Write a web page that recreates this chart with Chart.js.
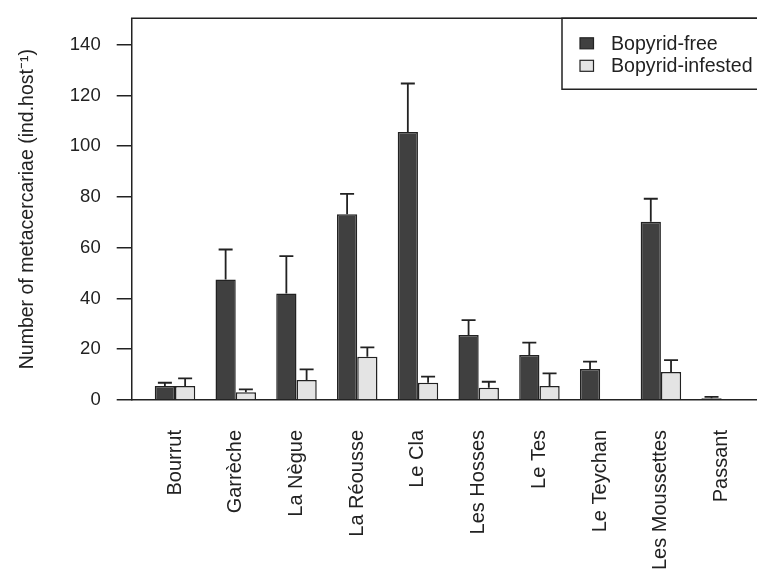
<!DOCTYPE html>
<html><head><meta charset="utf-8">
<script src="https://cdn.jsdelivr.net/npm/chart.js@4.4.1/dist/chart.umd.min.js"></script>
<style>html,body{margin:0;padding:0;background:#fff;overflow:hidden}#wrap{width:757px;height:570px;position:relative}</style>
</head><body><div id="wrap"><canvas id="c" width="757" height="570"></canvas></div>
<script>
const categories = ['Bourrut','Garrèche','La Nègue','La Réousse','Le Cla','Les Hosses','Le Tes','Le Teychan','Les Moussettes','Passant'];
const freeMeans = [5.5, 47.5, 42.0, 73.2, 105.6, 25.6, 17.7, 12.2, 70.2, 0.7];
const freeErrors = [1.3, 11.8, 14.7, 8.0, 19.1, 5.9, 4.9, 2.9, 9.1, 0.5];
const infestedMeans = [5.5, 3.1, 7.9, 17.0, 6.8, 4.8, 5.5, null, 11.0, null];
const infestedErrors = [3.0, 1.1, 4.2, 3.7, 2.4, 2.4, 5.0, null, 4.7, null];
const seriesNames = ['Bopyrid-free', 'Bopyrid-infested'];
const yTickStep = 20;
const yMax = 150.4;
const yTitle = 'Number of metacercariae (ind.host\u207B\u00B9)';

const INK = '#222';
const FONT = 'Arial, "Liberation Sans", sans-serif';

const toPoints = arr => arr.map((v, i) => ({x: i, y: v}));

const errorBars = {
  id: 'errorBars',
  afterDatasetsDraw(chart) {
    const ctx = chart.ctx;
    const ys = chart.scales.y;
    const errs = [freeErrors, infestedErrors];
    chart.data.datasets.forEach((ds, di) => {
      const meta = chart.getDatasetMeta(di);
      meta.data.forEach((el, i) => {
        const v = ds.data[i].y, e = errs[di][i];
        if (v == null || e == null) return;
        const yTop = ys.getPixelForValue(v + e);
        const yBar = ys.getPixelForValue(v);
        ctx.save();
        ctx.strokeStyle = INK;
        ctx.lineWidth = 1.8;
        ctx.beginPath();
        ctx.moveTo(el.x, yBar);
        ctx.lineTo(el.x, yTop);
        ctx.moveTo(el.x - 7, yTop);
        ctx.lineTo(el.x + 7, yTop);
        ctx.stroke();
        ctx.restore();
      });
    });
  }
};

const frameAndLegend = {
  id: 'frameAndLegend',
  afterDraw(chart) {
    const ctx = chart.ctx;
    const a = chart.chartArea;
    ctx.save();
    ctx.strokeStyle = INK;
    ctx.lineWidth = 1.5;
    ctx.beginPath();
    ctx.moveTo(a.left - 0.75, a.top);
    ctx.lineTo(chart.width + 2, a.top);
    ctx.stroke();
    // legend box
    const lx = 562, ly = a.top, lh = 71;
    ctx.beginPath();
    ctx.rect(lx, ly, chart.width + 10 - lx, lh);
    ctx.fillStyle = '#fff';
    ctx.fill();
    ctx.stroke();
    const fills = chart.data.datasets.map(d => d.backgroundColor);
    seriesNames.forEach((name, i) => {
      const cy = ly + 25 + i * 22.5;
      ctx.fillStyle = fills[i];
      ctx.fillRect(580, cy - 5.5, 13.5, 11);
      ctx.lineWidth = 1.2;
      ctx.strokeRect(580, cy - 5.5, 13.5, 11);
      ctx.fillStyle = INK;
      ctx.font = '19.6px ' + FONT;
      ctx.textBaseline = 'middle';
      ctx.textAlign = 'left';
      ctx.fillText(name, 611, cy + 1);
    });
    ctx.restore();
  }
};

new Chart(document.getElementById('c'), {
  type: 'bar',
  data: {
    datasets: [
      {label: seriesNames[0], data: toPoints(freeMeans), backgroundColor: '#404040', borderColor: INK, borderWidth: 1.5},
      {label: seriesNames[1], data: toPoints(infestedMeans), backgroundColor: '#e4e4e4', borderColor: INK, borderWidth: 1.5}
    ]
  },
  options: {
    responsive: false,
    animation: false,
    devicePixelRatio: 1,
    categoryPercentage: 2 / 3,
    barPercentage: 1,
    layout: {padding: {top: 18.3, left: 0, right: 0, bottom: 0}},
    plugins: {legend: {display: false}, tooltip: {enabled: false}},
    scales: {
      x: {
        type: 'linear',
        position: 'bottom',
        offset: false,
        min: -0.713,
        max: 9.582,
        bounds: 'data',
        afterBuildTicks: s => { s.ticks = categories.map((c, i) => ({value: i})); },
        afterFit: s => { s.height = 170; s.paddingLeft = 0; s.paddingRight = 0; },
        grid: {display: false, drawTicks: false, offset: false},
        border: {display: true, color: INK, width: 1.5},
        ticks: {
          autoSkip: false, minRotation: 90, maxRotation: 90, padding: 30,
          color: INK, font: {family: FONT, size: 20},
          callback: v => categories[Math.round(v)]
        }
      },
      y: {
        type: 'linear',
        position: 'left',
        min: 0,
        max: yMax,
        bounds: 'data',
        afterFit: s => { s.width = 131.7; s.paddingTop = 0; s.paddingBottom = 0; },
        grid: {drawOnChartArea: false, drawTicks: true, tickLength: 15, color: INK, lineWidth: 1.5},
        border: {display: true, color: INK, width: 1.5},
        ticks: {stepSize: yTickStep, includeBounds: false, padding: 16, color: INK, font: {family: FONT, size: 18.5}},
        title: {display: true, text: yTitle, color: INK, font: {family: FONT, size: 19.5}, padding: {top: 16, bottom: 0}}
      }
    }
  },
  plugins: [errorBars, frameAndLegend]
});
</script></body></html>
